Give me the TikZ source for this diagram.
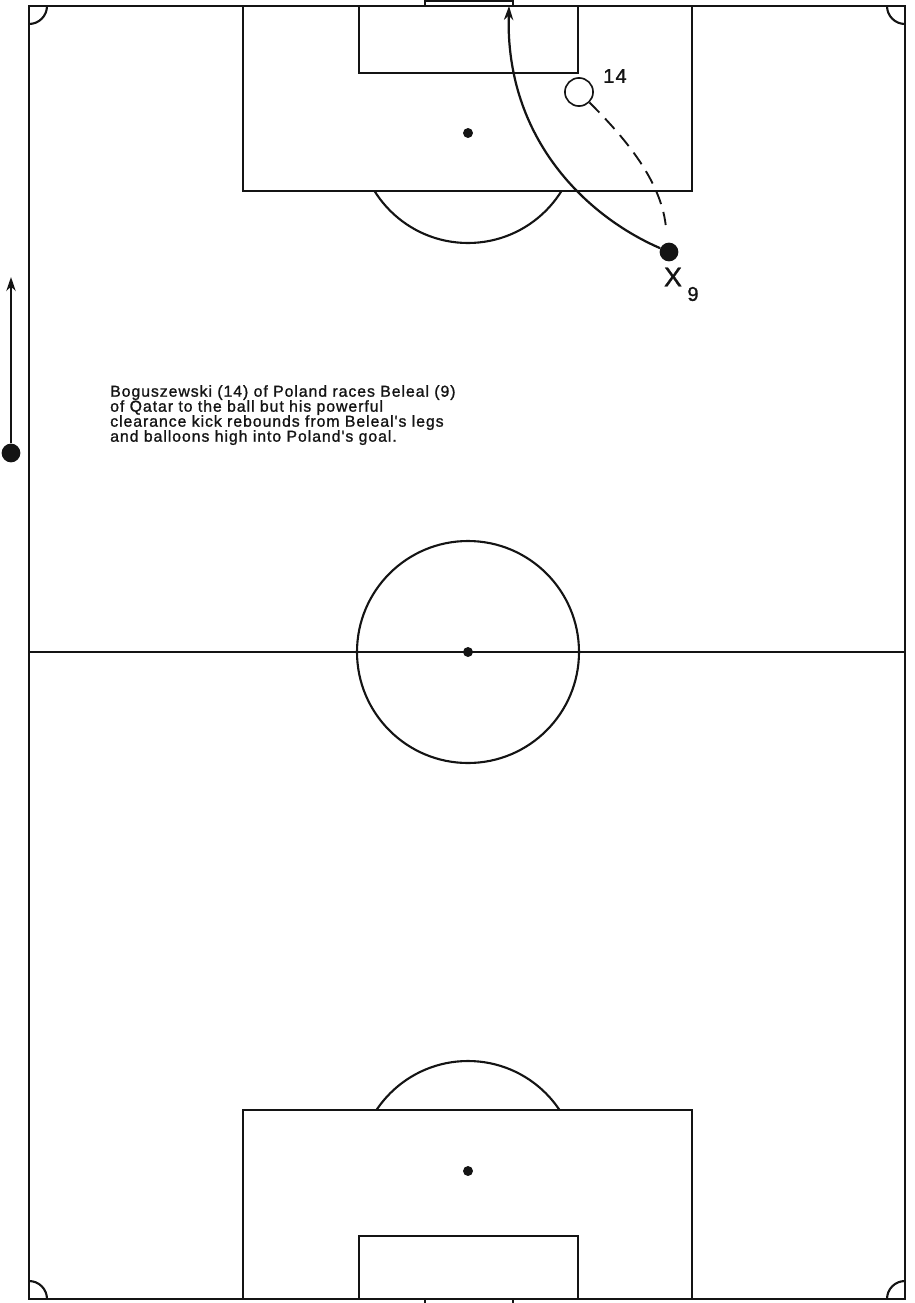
\documentclass[tikz,border=0pt]{standalone}
\usepackage{fontspec}
\setmainfont{Liberation Sans}
\newfontfamily\wideface[LetterSpace=6, FakeBold=1.2]{Liberation Sans}
\usetikzlibrary{arrows.meta, positioning, calc}
\definecolor{pitchink}{RGB}{20,20,20}
\tikzset{
  pitch/.style={draw=pitchink, line width=1.8pt},
  spot/.style={circle, fill=pitchink, inner sep=0pt, minimum size=8.5pt},
  player/.style={circle, draw=pitchink, line width=1.4pt, fill=white,
    inner sep=0pt, minimum size=24pt},
  ballman/.style={circle, fill=pitchink, inner sep=0pt, minimum size=16pt},
  run/.style={-{Stealth[length=12pt, width=8pt]}, line width=1.9pt, draw=pitchink},
  dashrun/.style={line width=1.6pt, draw=pitchink, dash pattern=on 12pt off 7pt},
  numlabel/.style={font=\wideface\fontsize{17}{17}\selectfont, inner sep=0pt, text=pitchink},
  caption/.style={align=left, anchor=north west, inner sep=0pt, text=pitchink,
    font=\wideface\fontsize{13.5}{12.8}\selectfont},
}

\begin{document}
\begin{tikzpicture}[x=0.03cm, y=-0.03cm]
  \useasboundingbox (0,0) rectangle (915,1303);

  % field
  \draw[pitch] (29,6) rectangle (905,1299);
  \draw[pitch] (29,652) -- (905,652);
  \draw[pitch] (468,652) circle (111);
  \node[spot] (centre) at (468,652) {};
  \begin{scope}
    \clip (29,6) rectangle (905,1299);
    \foreach \cx/\cy in {29/6, 905/6, 29/1299, 905/1299}
      \draw[pitch] (\cx,\cy) circle (18);
  \end{scope}

  % top end
  \draw[pitch] (243,6) rectangle (692,191);
  \draw[pitch] (359,6) rectangle (578,73);
  \draw[pitch] (425,6) -- (425,1) -- (513,1) -- (513,6);
  \node[spot] (topspot) at (468,133) {};
  \begin{scope}
    \clip (29,191) rectangle (905,400);
    \draw[pitch] (468,133) circle (110);
  \end{scope}

  % bottom end
  \draw[pitch] (243,1110) rectangle (692,1299);
  \draw[pitch] (359,1236) rectangle (578,1299);
  \draw[pitch] (425,1299) -- (425,1305) -- (513,1305) -- (513,1299);
  \node[spot] (botspot) at (468,1171) {};
  \begin{scope}
    \clip (29,900) rectangle (905,1110);
    \draw[pitch] (468,1171) circle (110);
  \end{scope}

  % players and ball
  \node[player] (p14) at (579,92) {};
  \node[numlabel] (lab14) at (615,76) {14};
  \node[ballman] (p9) at (669,252) {};
  \node[numlabel, font=\wideface\fontsize{23}{23}\selectfont] (x9) at (673,277) {X};
  \node[numlabel] (lab9) at (693,294) {9};
  \coordinate (goalin) at (509,6);
  \draw[run] (p9) .. controls (588,217) and (505,140) .. (goalin);
  \draw[dashrun, shorten >=15pt] (p14) .. controls (622,135) and (660,178) .. (p9);

  % direction of play
  \node[ballman] (runball) at (11,453) {};
  \coordinate (runend) at (11,277);
  \draw[run] (runball) -- (runend);

  \node[caption] (story) at (110,385)
    {Boguszewski (14) of Poland races Beleal (9)\\
     of Qatar to the ball but his powerful\\
     clearance kick rebounds from Beleal's legs\\
     and balloons high into Poland's goal.};
\end{tikzpicture}
\end{document}
